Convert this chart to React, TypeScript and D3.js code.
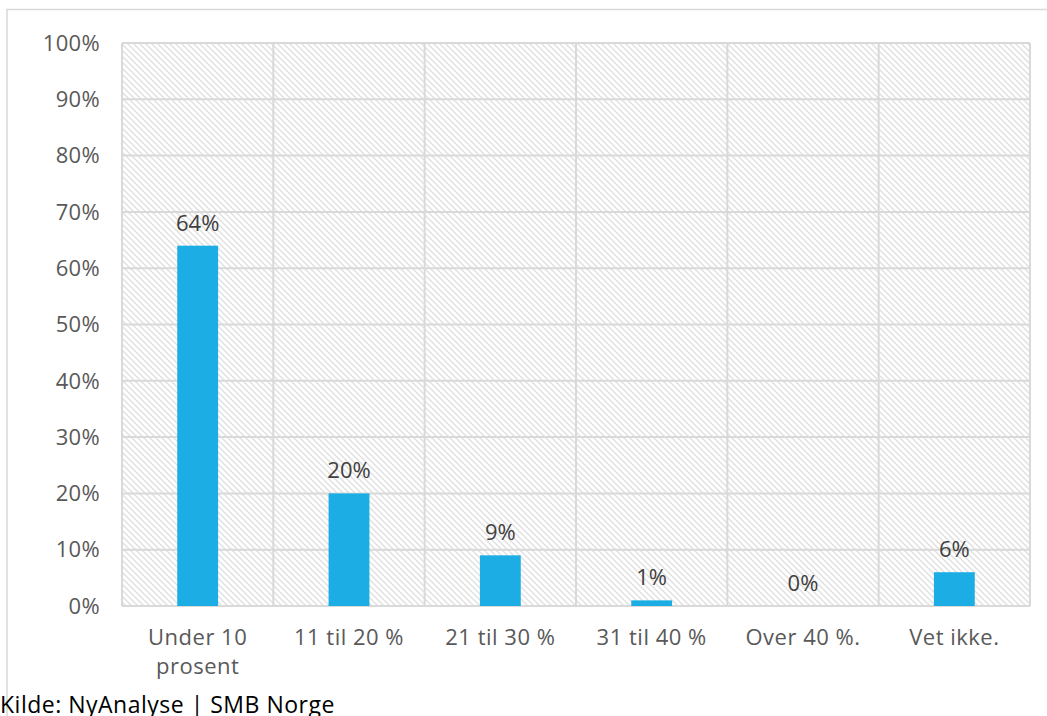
import React from "react";
import * as d3 from "d3";

const categories: string[][] = [
  ["Under 10", "prosent"],
  ["11 til 20 %"],
  ["21 til 30 %"],
  ["31 til 40 %"],
  ["Over 40 %."],
  ["Vet ikke."],
];
const values: number[] = [64, 20, 9, 1, 0, 6];
const yTicks: number[] = [0, 10, 20, 30, 40, 50, 60, 70, 80, 90, 100];
const sourceText = "Kilde: NyAnalyse | SMB Norge";

const W = 1047;
const H = 716;
const plot = { left: 122, right: 1030, top: 43, bottom: 606 };
const FONT = "'Century Gothic', 'Open Sans', 'DejaVu Sans', sans-serif";

export default function App() {
  const x = d3
    .scaleBand<number>()
    .domain(d3.range(categories.length))
    .range([plot.left, plot.right])
    .paddingInner(0)
    .paddingOuter(0);
  const y = d3.scaleLinear().domain([0, 100]).range([plot.bottom, plot.top]);
  const bw = x.bandwidth() * 0.27;
  const grid = "#d9d9d9";

  return (
    <svg
      width={W}
      height={H}
      style={{ position: "absolute", left: 0, top: 0, background: "#fff" }}
      fontFamily={FONT}
    >
      <defs>
        <pattern id="hatch" width="6" height="6" patternUnits="userSpaceOnUse">
          <rect width="6" height="6" fill="#fff" />
          <path d="M-1,-1 L7,7 M-1,5 L1,7 M5,-1 L7,1" stroke="#e0e0e0" strokeWidth="1.4" />
        </pattern>
      </defs>
      {/* outer border */}
      <path d={`M7,${H} L7,9.5 L${W},9.5`} fill="none" stroke="#d9d9d9" strokeWidth={1.5} />
      {/* plot background */}
      <rect
        x={plot.left}
        y={plot.top}
        width={plot.right - plot.left}
        height={plot.bottom - plot.top}
        fill="url(#hatch)"
      />
      {/* horizontal gridlines */}
      {yTicks.map((t) => (
        <line key={"h" + t} x1={plot.left} x2={plot.right} y1={y(t)} y2={y(t)} stroke={grid} strokeWidth={2} />
      ))}
      {/* vertical gridlines */}
      {d3.range(categories.length + 1).map((i) => {
        const xx = i < categories.length ? x(i)! : plot.right;
        return <line key={"v" + i} x1={xx} x2={xx} y1={plot.top} y2={plot.bottom} stroke={grid} strokeWidth={2} />;
      })}
      {/* y tick labels */}
      {yTicks.map((t) => (
        <text key={"yl" + t} x={100} y={y(t)} dy="0.35em" textAnchor="end" fontSize={22} letterSpacing={0.3} fill="#595959">
          {t}%
        </text>
      ))}
      {/* bars */}
      {values.map((v, i) => {
        const cx = x(i)! + x.bandwidth() / 2;
        return (
          <g key={"b" + i}>
            {v > 0 && (
              <rect x={cx - bw / 2} y={y(v)} width={bw} height={y(0) - y(v)} fill="#1CADE4" />
            )}
            <text x={cx} y={y(v) - 15} textAnchor="middle" fontSize={22} fill="#404040">
              {v}%
            </text>
          </g>
        );
      })}
      {/* category labels */}
      {categories.map((lines, i) => {
        const cx = x(i)! + x.bandwidth() / 2;
        return (
          <text key={"c" + i} textAnchor="middle" fontSize={22} letterSpacing={0.5} fill="#595959">
            {lines.map((l, j) => (
              <tspan key={j} x={cx} y={645 + j * 29}>
                {l}
              </tspan>
            ))}
          </text>
        );
      })}
      <text x={0} y={713} fontSize={23} letterSpacing={0.5} fill="#000">
        {sourceText}
      </text>
    </svg>
  );
}
